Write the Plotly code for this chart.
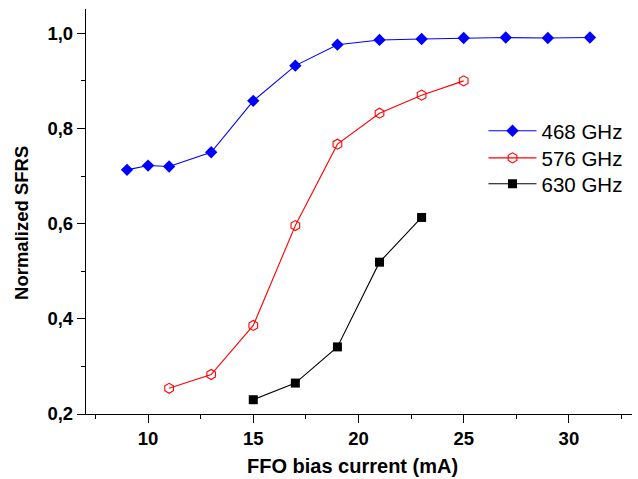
import plotly.graph_objects as go

# Data
x_468 = [9, 10, 11, 13, 15, 17, 19, 21, 23, 25, 27, 29, 31]
y_468 = [0.713, 0.722, 0.720, 0.750, 0.858, 0.932, 0.976, 0.986, 0.988, 0.990, 0.991, 0.990, 0.991]

x_576 = [11, 13, 15, 17, 19, 21, 23, 25]
y_576 = [0.254, 0.283, 0.386, 0.596, 0.767, 0.832, 0.870, 0.900]

x_630 = [15, 17, 19, 21, 23]
y_630 = [0.230, 0.265, 0.341, 0.519, 0.613]

x_ticks = [10, 15, 20, 25, 30]
y_ticks = [0.2, 0.4, 0.6, 0.8, 1.0]
y_tick_text = ["0,2", "0,4", "0,6", "0,8", "1,0"]

x_title = "FFO bias current (mA)"
y_title = "Normalized SFRS"

font_family = "Liberation Sans, Arial, sans-serif"

fig = go.Figure()
fig.add_trace(go.Scatter(x=x_468, y=y_468, mode="lines+markers", name="468 GHz",
                         legend="legend",
                         line=dict(color="#0000FF", width=1.1),
                         marker=dict(symbol="diamond", size=9.5, color="#0000FF")))
fig.add_trace(go.Scatter(x=x_576, y=y_576, mode="lines+markers", name="576 GHz",
                         legend="legend2",
                         line=dict(color="#FF0000", width=1.1),
                         marker=dict(symbol="hexagon-open", size=10, color="#FF0000",
                                     line=dict(width=1.1, color="#FF0000"))))
fig.add_trace(go.Scatter(x=x_630, y=y_630, mode="lines+markers", name="630 GHz",
                         legend="legend3",
                         line=dict(color="#000000", width=1.1),
                         marker=dict(symbol="square", size=9, color="#000000")))

leg_common = dict(x=0.728, xanchor="left", yanchor="middle",
                  font=dict(size=20.5, family=font_family, color="black"),
                  bgcolor="rgba(0,0,0,0)", borderwidth=0, itemwidth=48)

fig.update_layout(
    width=638, height=479,
    margin=dict(l=86, r=6, t=9, b=65),
    paper_bgcolor="white", plot_bgcolor="white",
    font=dict(family=font_family, color="black"),
    showlegend=True,
    legend=dict(y=0.699, **leg_common),
    legend2=dict(y=0.632, **leg_common),
    legend3=dict(y=0.568, **leg_common),
    annotations=[
        dict(text="<b>" + x_title + "</b>", xref="paper", yref="paper",
             x=0.489, y=-0.128, xanchor="center", yanchor="middle", showarrow=False,
             font=dict(size=20, family=font_family, color="black")),
        dict(text="<b>" + y_title + "</b>", xref="paper", yref="paper",
             x=-0.117, y=0.472, xanchor="center", yanchor="middle", showarrow=False,
             textangle=-90,
             font=dict(size=18.5, family=font_family, color="black")),
    ],
)

fig.update_xaxes(
    range=[7.05, 33.0], showgrid=False, zeroline=False,
    showline=True, linecolor="black", linewidth=1.3, mirror=False,
    ticks="outside", ticklen=8, tickwidth=1.3, tickcolor="black",
    tickvals=x_ticks,
    minor=dict(ticks="outside", ticklen=4, tickwidth=1.3, tickcolor="black", dtick=2.5, tick0=0),
    tickfont=dict(size=18.5, family=font_family, weight="bold"),
)
fig.update_yaxes(
    range=[0.2, 1.051], showgrid=False, zeroline=False,
    showline=True, linecolor="black", linewidth=1.3, mirror=False,
    ticks="outside", ticklen=8, tickwidth=1.3, tickcolor="black",
    tickvals=y_ticks, ticktext=y_tick_text,
    minor=dict(ticks="outside", ticklen=4, tickwidth=1.3, tickcolor="black", dtick=0.1, tick0=0.2),
    tickfont=dict(size=18.5, family=font_family, weight="bold"),
)

fig.write_html("out.html")
